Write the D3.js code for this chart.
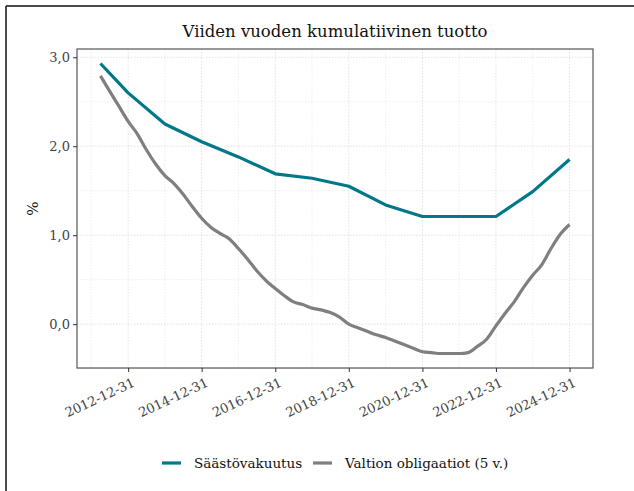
<!DOCTYPE html>
<html>
<head>
<meta charset="utf-8">
<script src="https://cdn.jsdelivr.net/npm/d3@7"></script>
<style>
  body { margin: 0; background: #fff; }
  svg text { font-family: "DejaVu Serif", serif; }
</style>
</head>
<body>
<div id="chart"></div>
<script>
// quarterly dates 2012-03-31 .. 2024-12-31
const quarterDates = [];
for (let y = 2012; y <= 2024; y++) {
  for (const md of ["03-31", "06-30", "09-30", "12-31"]) quarterDates.push(`${y}-${md}`);
}

// Säästövakuutus, annual points
const savingsDates = ["2012-03-31", "2012-12-31", "2013-12-31", "2014-12-31", "2015-12-31",
  "2016-12-31", "2017-12-31", "2018-12-31", "2019-12-31", "2020-12-31",
  "2021-12-31", "2022-12-31", "2023-12-31", "2024-12-31"];
const savingsValues = [2.93, 2.60, 2.25, 2.05, 1.88, 1.69, 1.64, 1.55, 1.34, 1.21, 1.21, 1.21, 1.49, 1.85];

// Valtion obligaatiot (5 v.), quarterly
const bondValues = [2.79, 2.62, 2.45, 2.28, 2.14, 1.96, 1.80, 1.67, 1.58, 1.46, 1.32, 1.19,
  1.09, 1.02, 0.96, 0.85, 0.73, 0.60, 0.49, 0.40, 0.32, 0.25, 0.22, 0.18,
  0.16, 0.13, 0.08, 0.00, -0.04, -0.08, -0.12, -0.15, -0.19, -0.23, -0.27, -0.31,
  -0.32, -0.33, -0.33, -0.33, -0.32, -0.25, -0.17, -0.02, 0.12, 0.25, 0.41, 0.55,
  0.67, 0.85, 1.01, 1.12];

const tickDates = ["2012-12-31", "2014-12-31", "2016-12-31", "2018-12-31", "2020-12-31", "2022-12-31", "2024-12-31"];
const minorDates = ["2011-12-31", "2013-12-31", "2015-12-31", "2017-12-31", "2019-12-31", "2021-12-31", "2023-12-31"];
const yTicks = [0, 1, 2, 3];
const yMinor = [-0.5, 0.5, 1.5, 2.5];

const seriesNames = ["Säästövakuutus", "Valtion obligaatiot (5 v.)"];
const seriesColors = ["#00788a", "#7f7f7f"];

const parse = d3.timeParse("%Y-%m-%d");
const savings = savingsDates.map((d, i) => ({ date: parse(d), value: savingsValues[i] }));
const bonds = quarterDates.map((d, i) => ({ date: parse(d), value: bondValues[i] }));

const width = 634, height = 491;
const margin = { top: 49, right: 41, bottom: 123, left: 77 };
const innerW = width - margin.left - margin.right;
const innerH = height - margin.top - margin.bottom;

const svg = d3.select("#chart").append("svg")
  .attr("width", width).attr("height", height);

// screenshot frame (top & left only)
svg.append("line").attr("x1", 6).attr("x2", width).attr("y1", 6).attr("y2", 6)
  .attr("stroke", "#111").attr("stroke-width", 1.5);
svg.append("line").attr("x1", 6).attr("x2", 6).attr("y1", 6).attr("y2", height)
  .attr("stroke", "#111").attr("stroke-width", 1.5);

const g = svg.append("g").attr("transform", `translate(${margin.left},${margin.top})`);

// ggplot-style 5% expansion
const xExt = d3.extent(bonds, d => d.date);
const xPad = (xExt[1] - xExt[0]) * 0.05;
const x = d3.scaleTime()
  .domain([new Date(+xExt[0] - xPad), new Date(+xExt[1] + xPad)])
  .range([0, innerW]);

const allVals = savingsValues.concat(bondValues);
const yExt = d3.extent(allVals);
const yPad = (yExt[1] - yExt[0]) * 0.05;
const y = d3.scaleLinear().domain([yExt[0] - yPad, yExt[1] + yPad]).range([innerH, 0]);

// grid
const grid = g.append("g").attr("stroke", "#e3e3e3").attr("stroke-dasharray", "1.5,1.5");
grid.selectAll("line.vmin").data(minorDates.map(parse).filter(d => d >= x.domain()[0]))
  .join("line").attr("x1", d => x(d)).attr("x2", d => x(d)).attr("y1", 0).attr("y2", innerH)
  .attr("stroke-width", 0.6);
grid.selectAll("line.vmaj").data(tickDates.map(parse))
  .join("line").attr("x1", d => x(d)).attr("x2", d => x(d)).attr("y1", 0).attr("y2", innerH)
  .attr("stroke-width", 1);
grid.selectAll("line.hmin").data(yMinor)
  .join("line").attr("x1", 0).attr("x2", innerW).attr("y1", d => y(d)).attr("y2", d => y(d))
  .attr("stroke-width", 0.6);
grid.selectAll("line.hmaj").data(yTicks)
  .join("line").attr("x1", 0).attr("x2", innerW).attr("y1", d => y(d)).attr("y2", d => y(d))
  .attr("stroke-width", 1);

// lines
const line = d3.line().curve(d3.curveMonotoneX).x(d => x(d.date)).y(d => y(d.value));
const straight = d3.line().x(d => x(d.date)).y(d => y(d.value));
[savings, bonds].forEach((data, i) => {
  g.append("path").datum(data)
    .attr("fill", "none")
    .attr("stroke", seriesColors[i])
    .attr("stroke-width", 3.2)
    .attr("stroke-linejoin", "round")
    .attr("d", i === 0 ? straight : line);
});

// panel border
g.append("rect").attr("width", innerW).attr("height", innerH)
  .attr("fill", "none").attr("stroke", "#555").attr("stroke-width", 1.2);

// axes
const fmt = d3.format(".1f");
const yAxis = g.append("g")
  .call(d3.axisLeft(y).tickValues(yTicks).tickSize(4).tickPadding(3)
    .tickFormat(d => fmt(d).replace(".", ",")));
yAxis.select(".domain").remove();
yAxis.selectAll("line").attr("stroke", "#333");
yAxis.selectAll("text").attr("fill", "#444").style("font-size", "13px");

const xAxis = g.append("g").attr("transform", `translate(0,${innerH})`)
  .call(d3.axisBottom(x).tickValues(tickDates.map(parse)).tickSize(4)
    .tickFormat(d3.timeFormat("%Y-%m-%d")));
xAxis.select(".domain").remove();
xAxis.selectAll("line").attr("stroke", "#333");
xAxis.selectAll("text")
  .attr("fill", "#444").style("font-size", "13px")
  .attr("text-anchor", "end")
  .attr("dy", null).attr("y", 0)
  .attr("transform", "translate(3,9) rotate(-25)")
  .attr("dominant-baseline", "hanging");

// title
svg.append("text")
  .attr("x", margin.left + innerW / 2).attr("y", 37)
  .attr("text-anchor", "middle")
  .attr("fill", "#111")
  .style("font-size", "16.5px")
  .text("Viiden vuoden kumulatiivinen tuotto");

// y label
svg.append("text")
  .attr("transform", `translate(38,${margin.top + innerH / 2}) rotate(-90)`)
  .attr("text-anchor", "middle")
  .attr("fill", "#111")
  .style("font-size", "15px")
  .text("%");

// legend
const legend = svg.append("g").attr("transform", "translate(162,463)");
const legendX = [0, 151];
seriesNames.forEach((name, i) => {
  const lg = legend.append("g").attr("transform", `translate(${legendX[i]},0)`);
  lg.append("line").attr("x1", 0).attr("x2", 19).attr("y1", 0).attr("y2", 0)
    .attr("stroke", seriesColors[i]).attr("stroke-width", 3.2);
  lg.append("text").attr("x", 32).attr("y", 0).attr("dy", "0.35em")
    .attr("fill", "#111").style("font-size", "13.5px").text(name);
});
</script>
</body>
</html>
